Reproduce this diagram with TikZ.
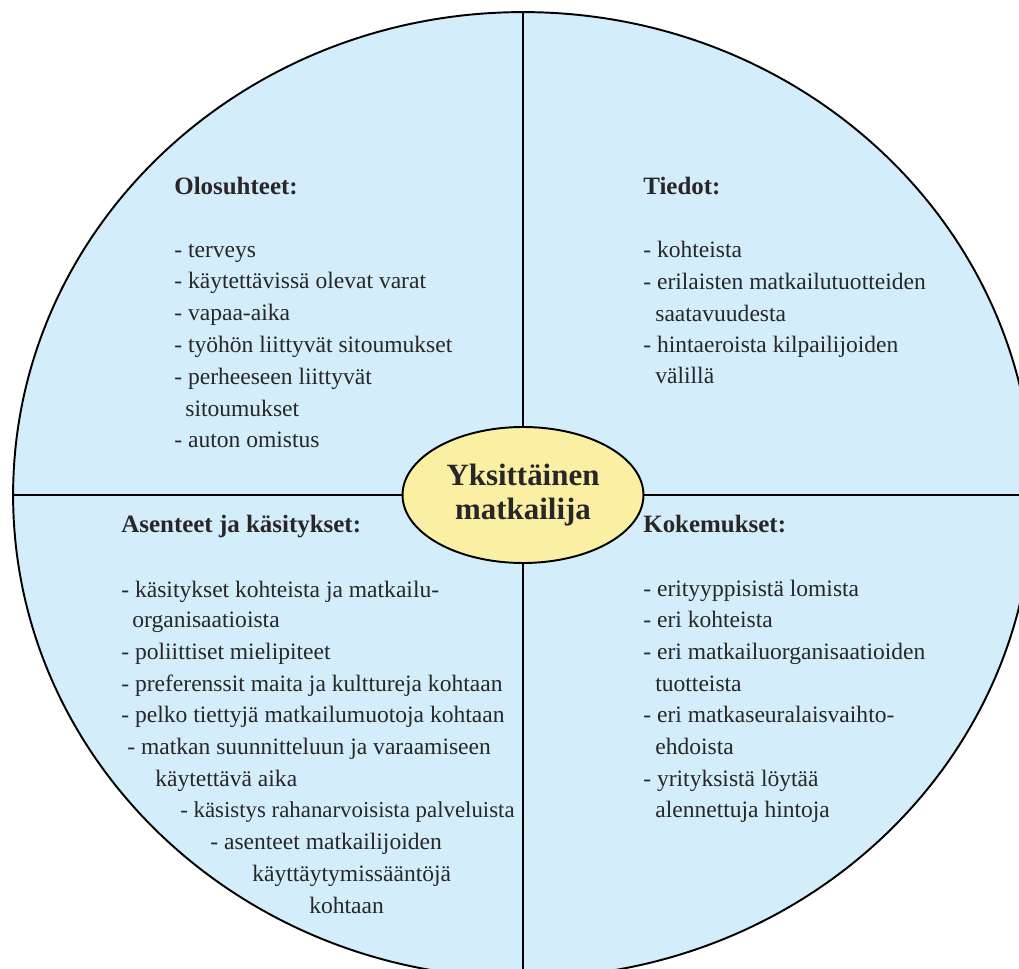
\documentclass[tikz,border=0pt]{standalone}
\usepackage{fontspec}
\setmainfont{Liberation Serif}
\usetikzlibrary{shapes.geometric}
\definecolor{diskblue}{RGB}{211,237,250}
\definecolor{hubyellow}{RGB}{251,239,163}
\definecolor{inkgray}{RGB}{40,38,40}
\tikzset{
  item/.style={anchor=base west, inner sep=0pt, text=inkgray, font=\fontsize{13.4}{16}\selectfont},
  head/.style={item, font=\fontsize{14.2}{17}\selectfont\bfseries},
  hub/.style={ellipse, draw, line width=1.1pt, fill=hubyellow, minimum width=4.82cm, minimum height=2.72cm,
    inner sep=0pt, align=center, text=inkgray, font=\fontsize{17.6}{19}\selectfont\bfseries}
}
\begin{document}
\begin{tikzpicture}[x=0.02cm,y=-0.02cm]
\useasboundingbox (0,0) rectangle (1019,969);
\clip (0,0) rectangle (1019,969);
% the disc and its quarters
\filldraw[fill=diskblue, line width=1.1pt] (523,495) ellipse [x radius=10.2cm, y radius=9.66cm];
\coordinate (top) at (523,12);
\coordinate (bot) at (523,978);
\coordinate (lft) at (13,495);
\coordinate (rgt) at (1033,495);
\draw[line width=0.9pt] (top) -- (bot);
\draw[line width=0.9pt] (lft) -- (rgt);
\node[hub] (hub) at (523,495) {\raisebox{3pt}{Yksittäinen}\\\raisebox{3pt}{matkailija}};
% upper left
\node[head] (olo) at (174,195) {Olosuhteet:};
\node[item] (o1) at (174,258) {- terveys};
\node[item] (o2) at (174,289) {- käytettävissä olevat varat};
\node[item] (o3) at (174,321) {- vapaa-aika};
\node[item] (o4) at (174,353) {- työhön liittyvät sitoumukset};
\node[item] (o5) at (174,385) {- perheeseen liittyvät};
\node[item] (o6) at (185,417) {sitoumukset};
\node[item] (o7) at (174,448) {- auton omistus};
% upper right
\node[head] (tie) at (643,195) {Tiedot:};
\node[item] (t1) at (643,258) {- kohteista};
\node[item] (t2) at (643,290) {- erilaisten matkailutuotteiden};
\node[item] (t3) at (655,322) {saatavuudesta};
\node[item] (t4) at (643,353) {- hintaeroista kilpailijoiden};
\node[item] (t5) at (655,384) {välillä};
% lower left
\node[head] (ase) at (121,533) {Asenteet ja käsitykset:};
\node[item] (a1) at (121,598) {- käsitykset kohteista ja matkailu-};
\node[item] (a2) at (132,628) {organisaatioista};
\node[item] (a3) at (121,660) {- poliittiset mielipiteet};
\node[item] (a4) at (121,692) {- preferenssit maita ja kulttureja kohtaan};
\node[item] (a5) at (121,723) {- pelko tiettyjä matkailumuotoja kohtaan};
\node[item] (a6) at (127,755) {- matkan suunnitteluun ja varaamiseen};
\node[item] (a7) at (155,787) {käytettävä aika};
\node[item, font=\fontsize{13}{16}\selectfont] (a8) at (180,818) {- käsistys rahanarvoisista palveluista};
\node[item] (a9) at (210,850) {- asenteet matkailijoiden};
\node[item] (a10) at (252,882) {käyttäytymissääntöjä};
\node[item] (a11) at (309,914) {kohtaan};
% lower right
\node[head] (kok) at (643,533) {Kokemukset:};
\node[item] (k1) at (643,597) {- erityyppisistä lomista};
\node[item] (k2) at (643,628) {- eri kohteista};
\node[item] (k3) at (643,660) {- eri matkailuorganisaatioiden};
\node[item] (k4) at (655,692) {tuotteista};
\node[item] (k5) at (643,723) {- eri matkaseuralaisvaihto-};
\node[item] (k6) at (655,755) {ehdoista};
\node[item] (k7) at (643,787) {- yrityksistä löytää};
\node[item] (k8) at (655,818) {alennettuja hintoja};
\end{tikzpicture}
\end{document}
